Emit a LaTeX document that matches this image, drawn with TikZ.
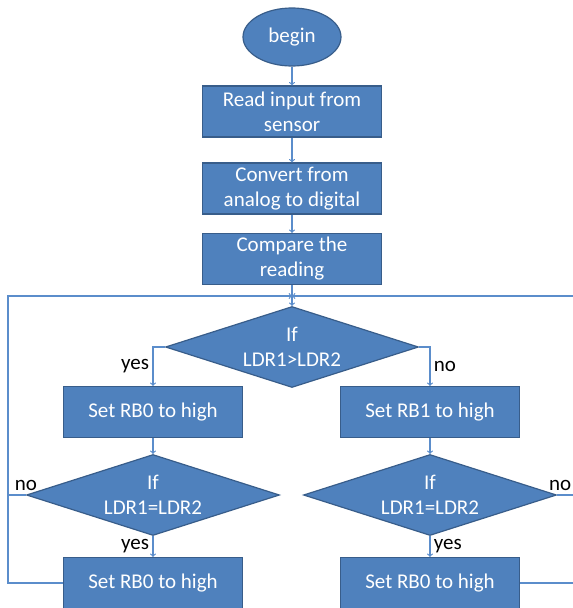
\documentclass[tikz,border=0pt]{standalone}
\usepackage{fontspec}
\setmainfont{Carlito}
\usetikzlibrary{arrows, shapes.geometric}

\definecolor{boxblue}{HTML}{4F81BD}
\definecolor{boxedge}{HTML}{385D8A}
\definecolor{flowline}{HTML}{5B8DCB}

\begin{document}
\begin{tikzpicture}[
            x = 1pt, y = 1pt, % one unit = one pixel of the sketch
            > = to, % arrow head style
            font = \fontsize{21}{25}\selectfont,
            flow/.style = {draw = flowline, line width = 1.2pt}
        ]

        \tikzstyle{terminal}=[
            ellipse,
            fill = boxblue,
            draw = boxedge,
            line width = 1.2pt,
            text = white,
            minimum width = 98pt,
            minimum height = 58pt
        ]
        \tikzstyle{process}=[
            rectangle,
            fill = boxblue,
            draw = boxedge,
            line width = 1.2pt,
            text = white,
            align = center,
            inner sep = 0pt,
            minimum width = 179pt,
            minimum height = 51pt
        ]
        \tikzstyle{decision}=[
            diamond,
            aspect = 3.1,
            fill = boxblue,
            draw = boxedge,
            line width = 1.2pt,
            text = white,
            align = center,
            inner sep = 0pt,
            minimum width = 253pt,
            minimum height = 81pt
        ]

        \useasboundingbox (0,0) rectangle (573,-608);
        \clip (0,0) rectangle (573,-608);

        \node[terminal] (begin) at (292,-37) {begin};
        \node[process] (read) [below of=begin, node distance=74.5pt] {Read input from\\sensor};
        \node[process] (convert) [below of=read, node distance=77pt] {Convert from\\analog to digital};
        \node[process] (compare) [below of=convert, node distance=70.5pt] {Compare the\\reading};
        \node[decision] (ifgreater) [below of=compare, node distance=88pt] {If\\LDR1>LDR2};

        \node[process] (setleft) at (153,-412) {Set RB0 to high};
        \node[process] (setright) at (430,-412) {Set RB1 to high};
        \node[decision] (ifleft) [below of=setleft, node distance=83pt] {If\\LDR1=LDR2};
        \node[decision] (ifright) [below of=setright, node distance=83pt] {If\\LDR1=LDR2};
        \node[process] (lowleft) [below of=ifleft, node distance=88pt] {Set RB0 to high};
        \node[process] (lowright) [below of=ifright, node distance=88pt] {Set RB0 to high};

        \coordinate (join) at (292,-296);
        \coordinate (leftrail) at (8,-495);
        \coordinate (rightrail) at (590,-495);

        \path[->, flow] (begin) edge (read);
        \path[->, flow] (read) edge (convert);
        \path[->, flow] (convert) edge (compare);
        \path[->, flow] (compare) edge (ifgreater);

        \draw[->, flow] (ifgreater.west) -| node[pos=0.75, left] {yes} (setleft.north);
        \draw[->, flow] (ifgreater.east) -| node[pos=0.75, right] {no} (setright.north);
        \path[->, flow] (setleft) edge (ifleft);
        \path[->, flow] (setright) edge (ifright);
        \path[->, flow] (ifleft) edge node[left] {yes} (lowleft);
        \path[->, flow] (ifright) edge node[right] {yes} (lowright);

        % loops back to the comparison
        \draw[flow] (ifleft.west) -- node[pos=0, above] {no} (leftrail);
        \draw[->, flow] (lowleft.west) -| (leftrail) |- (join);
        \draw[flow] (ifright.east) -- node[pos=0, above, xshift=3pt] {no} (rightrail);
        \draw[->, flow] (lowright.east) -| (rightrail) |- (join);

    \end{tikzpicture}
\end{document}
